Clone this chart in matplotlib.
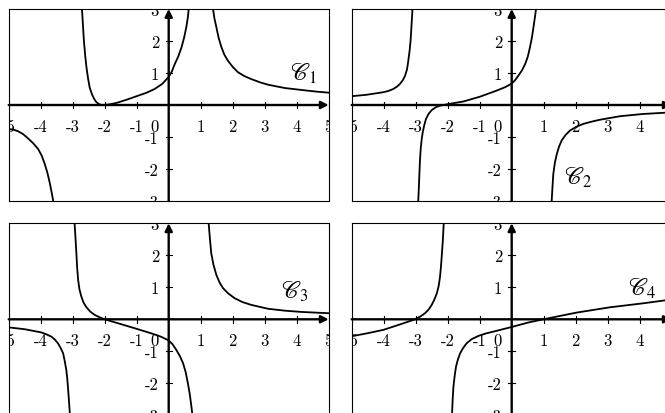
import matplotlib
matplotlib.use("Agg")
import matplotlib.pyplot as plt

# courbe C1
c1_a_x = [-5.02, -4.85, -4.71, -4.55, -4.40, -4.24, -4.08, -3.97, -3.875, -3.79, -3.72, -3.66, -3.61]
c1_a_y = [-0.75, -0.77, -0.82, -0.91, -1.04, -1.19, -1.375, -1.58, -1.84, -2.12, -2.42, -2.72, -2.99]
c1_b_x = [-2.71, -2.68, -2.65, -2.61, -2.57, -2.52, -2.47, -2.40, -2.33, -2.27, -2.21, -2.15, -2.08, -2.0,
          -1.85, -1.7, -1.58, -1.3, -0.96, -0.7, -0.44, -0.2, 0.0, 0.1, 0.19, 0.30, 0.40, 0.48, 0.55, 0.60, 0.625]
c1_b_y = [3.0, 2.5, 2.01, 1.55, 1.18, 0.83, 0.55, 0.34, 0.19, 0.10, 0.05, 0.015, 0.0, 0.0,
          0.02, 0.05, 0.08, 0.17, 0.29, 0.38, 0.5, 0.66, 0.88, 1.05, 1.28, 1.52, 1.8, 2.1, 2.43, 2.75, 3.0]
c1_c_x = [1.385, 1.43, 1.49, 1.56, 1.65, 1.74, 1.85, 2.0, 2.17, 2.37, 2.58, 2.85, 3.1, 3.63, 4.15, 4.6, 5.0]
c1_c_y = [3.0, 2.7, 2.43, 2.1, 1.8, 1.57, 1.385, 1.19, 1.02, 0.9, 0.81, 0.71, 0.635, 0.53, 0.47, 0.42, 0.385]

# courbe C2
c2_a_x = [-5.05, -4.53, -4.01, -3.85, -3.70, -3.59, -3.49, -3.40, -3.33, -3.27, -3.23, -3.19, -3.16, -3.13, -3.10]
c2_a_y = [0.27, 0.32, 0.40, 0.44, 0.5, 0.57, 0.66, 0.78, 0.92, 1.12, 1.39, 1.7, 2.01, 2.5, 3.0]
c2_b_x = [-2.92, -2.90, -2.885, -2.865, -2.84, -2.81, -2.78, -2.73, -2.68, -2.6, -2.5, -2.37, -2.24, -1.98,
          -1.51, -0.99, -0.47, -0.2, 0.0, 0.11, 0.21, 0.32, 0.42, 0.50, 0.57, 0.63, 0.68, 0.72, 0.76]
c2_b_y = [-2.99, -2.55, -2.16, -1.7, -1.32, -1.05, -0.85, -0.62, -0.44, -0.28, -0.16, -0.07, -0.02, 0.03,
          0.11, 0.26, 0.45, 0.56, 0.67, 0.78, 0.92, 1.08, 1.28, 1.5, 1.8, 2.1, 2.43, 2.7, 3.0]
c2_c_x = [1.25, 1.275, 1.30, 1.35, 1.41, 1.48, 1.56, 1.68, 1.82, 2.0, 2.24, 2.5, 2.76, 3.39, 4.11, 5.0]
c2_c_y = [-2.99, -2.55, -2.16, -1.8, -1.53, -1.3, -1.11, -0.94, -0.80, -0.69, -0.59, -0.52, -0.46, -0.35, -0.28, -0.23]

# courbe C3
c3_a_x = [-5.02, -4.5, -3.98, -3.82, -3.67, -3.56, -3.46, -3.38, -3.30, -3.25, -3.20, -3.17, -3.15, -3.12, -3.09]
c3_a_y = [-0.25, -0.31, -0.41, -0.47, -0.54, -0.63, -0.75, -0.89, -1.06, -1.3, -1.58, -1.85, -2.1, -2.5, -2.94]
c3_b_x = [-2.94, -2.91, -2.885, -2.86, -2.83, -2.79, -2.73, -2.66, -2.57, -2.45, -2.31, -2.15, -2.0, -1.58,
          -1.06, -0.54, -0.25, 0.0, 0.12, 0.24, 0.35, 0.45, 0.53, 0.60, 0.66, 0.71, 0.74]
c3_b_y = [2.98, 2.5, 2.06, 1.6, 1.23, 0.94, 0.71, 0.52, 0.375, 0.24, 0.135, 0.06, 0.0, -0.125,
          -0.28, -0.44, -0.54, -0.66, -0.78, -0.96, -1.15, -1.375, -1.65, -2.0, -2.35, -2.73, -2.98]
c3_c_x = [1.25, 1.29, 1.33, 1.40, 1.49, 1.59, 1.70, 1.87, 2.06, 2.3, 2.58, 3.10, 3.625, 4.15, 5.0]
c3_c_y = [2.98, 2.5, 2.06, 1.7, 1.385, 1.15, 0.97, 0.8, 0.66, 0.54, 0.45, 0.33, 0.27, 0.23, 0.19]

# courbe C4
c4_a_x = [-5.05, -4.53, -4.01, -3.49, -3.02, -2.85, -2.71, -2.6, -2.5, -2.42, -2.34, -2.28, -2.24, -2.21,
          -2.18, -2.15, -2.125]
c4_a_y = [-0.54, -0.44, -0.33, -0.16, 0.0, 0.09, 0.19, 0.3, 0.45, 0.61, 0.81, 1.05, 1.33, 1.65,
          2.06, 2.5, 2.98]
c4_b_x = [-1.865, -1.845, -1.82, -1.78, -1.74, -1.68, -1.61, -1.52, -1.41, -1.25, -1.04, -0.8, -0.57,
          0.0, 0.52, 0.99, 2.03, 3.07, 4.11, 5.0]
c4_b_y = [-2.98, -2.5, -2.1, -1.75, -1.48, -1.25, -1.06, -0.9, -0.75, -0.62, -0.52, -0.44, -0.385,
          -0.24, -0.10, 0.0, 0.21, 0.375, 0.5, 0.62]

x_ticks = [-5, -4, -3, -2, -1, 1, 2, 3, 4, 5]
y_ticks = [-3, -2, -1, 1, 2, 3]

courbes = [
    ("$\\mathscr{C}_1$", (3.8, 0.78), [(c1_a_x, c1_a_y), (c1_b_x, c1_b_y), (c1_c_x, c1_c_y)]),
    ("$\\mathscr{C}_2$", (1.62, -2.47), [(c2_a_x, c2_a_y), (c2_b_x, c2_b_y), (c2_c_x, c2_c_y)]),
    ("$\\mathscr{C}_3$", (3.52, 0.68), [(c3_a_x, c3_a_y), (c3_b_x, c3_b_y), (c3_c_x, c3_c_y)]),
    ("$\\mathscr{C}_4$", (3.65, 0.77), [(c4_a_x, c4_a_y), (c4_b_x, c4_b_y)]),
]

W, H = 665, 414
# coin haut-gauche de chaque cadre, en pixels
coins = [(8.7, 10), (351.7, 10), (8.7, 224.3), (351.7, 224.3)]

fig = plt.figure(figsize=(W / 100, H / 100), dpi=100)

for (nom, pos_nom, branches), (gx, hy) in zip(courbes, coins):
    ax = fig.add_axes([gx / W, 1 - (hy + 192) / H, 320 / W, 192 / H])
    ax.set_xlim(-5, 5)
    ax.set_ylim(-3, 3)
    ax.set_xticks([])
    ax.set_yticks([])
    for s in ax.spines.values():
        s.set_linewidth(0.8)

    # axes avec fleches
    ax.annotate("", xy=(5, 0), xytext=(-5, 0),
                arrowprops=dict(arrowstyle="-|>", lw=1.7, color="k", mutation_scale=11,
                                shrinkA=0, shrinkB=0))
    ax.annotate("", xy=(0, 3), xytext=(0, -3),
                arrowprops=dict(arrowstyle="-|>", lw=1.7, color="k", mutation_scale=11,
                                shrinkA=0, shrinkB=0))

    for t in x_ticks:
        ax.plot([t, t], [-0.1, 0.1], color="k", lw=0.8)
        ax.text(t, -0.8, str(t), ha="center", va="baseline", family="cmr10",
                fontsize=12, clip_on=True)
    for t in y_ticks:
        ax.plot([-0.1, 0.1], [t, t], color="k", lw=0.8)
        ax.text(-0.3, t - 0.18, str(t), ha="right", va="baseline", family="cmr10",
                fontsize=12, clip_on=True)
    ax.text(-0.3, -0.8, "0", ha="right", va="baseline", family="cmr10", fontsize=12)

    for bx, by in branches:
        ax.plot(bx, by, color="k", lw=1.3, solid_joinstyle="round")

    ax.text(pos_nom[0], pos_nom[1], nom, ha="left", va="baseline", fontsize=17,
            math_fontfamily="stix")

fig.savefig("out.png", dpi=100)
